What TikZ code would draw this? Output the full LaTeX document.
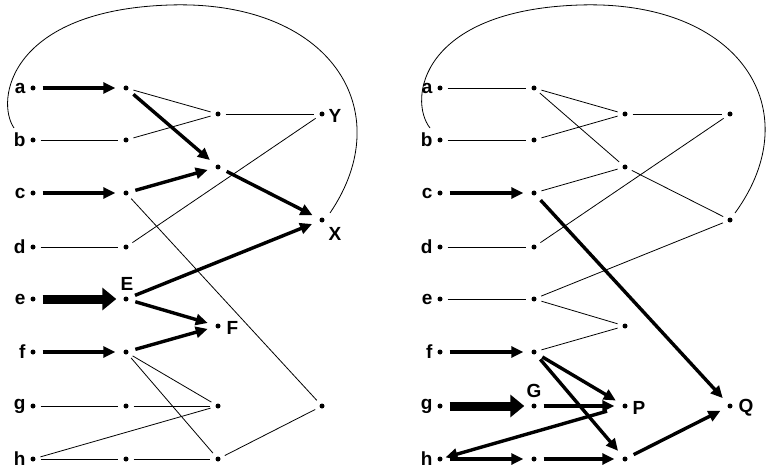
\documentclass[tikz,border=0pt]{standalone}
\usetikzlibrary{arrows.meta}
\usepackage{fontspec}
\setmainfont{Liberation Sans}
\begin{document}
\begin{tikzpicture}[x=1pt,y=-1pt,
  dot/.style={circle,fill,inner sep=0pt,minimum size=5pt},
  lab/.style={font=\bfseries\fontsize{19}{19}\selectfont},
  thin/.style={line width=0.8pt,shorten <=5pt,shorten >=5pt},
  bold/.style={line width=3.4pt,-{Triangle[length=12pt,width=11pt]},shorten <=7pt,shorten >=8pt},
  heavy/.style={line width=9pt,-{Triangle[length=14pt,width=22pt]},shorten <=7pt,shorten >=7pt}]
\useasboundingbox (0,0) rectangle (773,473);
% ---------- left panel
\foreach \n/\y in {a/88,b/140,c/193,d/247,e/299,f/352,g/406,h/459}{
  \node[dot] (L\n) at (33,\y) {};
  \node[lab,anchor=east] at (29,\y) {\n};
  \node[dot] (L1\n) at (126,\y) {};
}
\node[dot] (L2a) at (218,114) {};
\node[dot] (L2b) at (218,167) {};
\node[dot] (LF) at (218,326) {};
\node[dot] (L2g) at (218,406) {};
\node[dot] (L2h) at (218,459) {};
\node[dot] (LY) at (322,114) {};
\node[dot] (LX) at (322,220) {};
\node[dot] (L3) at (322,406) {};
\node[lab,anchor=west] at (325,116) {Y};
\node[lab,anchor=north west] at (325,224) {X};
\node[lab] at (127,284) {E};
\node[lab,anchor=west] at (223,328) {F};
\draw[bold] (La)--(L1a);
\draw[thin] (Lb)--(L1b);
\draw[bold] (Lc)--(L1c);
\draw[thin] (Ld)--(L1d);
\draw[heavy] (Le)--(L1e);
\draw[bold] (Lf)--(L1f);
\draw[thin] (Lg)--(L1g);
\draw[thin] (L1g)--(L2g);
\draw[thin] (Lh)--(L1h);
\draw[thin] (L1h)--(L2h);
\draw[thin] (Lh)--(L2g);
\draw[thin] (L1a)--(L2a);
\draw[thin] (L1b)--(L2a);
\draw[thin] (L2a)--(LY);
\draw[bold] (L1a)--(L2b);
\draw[bold] (L1c)--(L2b);
\draw[bold] (L2b)--(LX);
\draw[thin] (L1d)--(LY);
\draw[thin] (L1c)--(L3);
\draw[thin] (L2h)--(L3);
\draw[bold] (L1e)--(LX);
\draw[bold] (L1e)--(LF);
\draw[bold] (L1f)--(LF);
\draw[thin] (L1f)--(L2g);
\draw[thin] (L1f)--(L2h);
\draw[line width=0.8pt] (14,128) .. controls (-5,100) and (10,10) .. (170,5)
  .. controls (330,0) and (400,110) .. (330,213);
% ---------- right panel
\foreach \n/\y in {a/88,b/140,c/193,d/247,e/299,f/352,g/406,h/459}{
  \node[dot] (R\n) at (440,\y) {};
  \node[lab,anchor=east] at (436,\y) {\n};
  \node[dot] (R1\n) at (534,\y) {};
}
\node[dot] (R2a) at (625,114) {};
\node[dot] (R2b) at (625,167) {};
\node[dot] (R2f) at (625,326) {};
\node[dot] (RP) at (625,406) {};
\node[dot] (R2h) at (625,459) {};
\node[dot] (R3a) at (730,114) {};
\node[dot] (R3b) at (730,220) {};
\node[dot] (RQ) at (730,406) {};
\node[lab] at (534,391) {G};
\node[lab,anchor=west] at (629,408) {P};
\node[lab,anchor=west] at (735,408) {Q};
\draw[thin] (Ra)--(R1a);
\draw[thin] (Rb)--(R1b);
\draw[bold] (Rc)--(R1c);
\draw[thin] (Rd)--(R1d);
\draw[thin] (Re)--(R1e);
\draw[bold] (Rf)--(R1f);
\draw[heavy] (Rg)--(R1g);
\draw[bold] (Rh)--(R1h);
\draw[thin] (R1a)--(R2a);
\draw[thin] (R1b)--(R2a);
\draw[thin] (R2a)--(R3a);
\draw[thin] (R1a)--(R2b);
\draw[thin] (R1c)--(R2b);
\draw[thin] (R2b)--(R3b);
\draw[thin] (R1d)--(R3a);
\draw[thin] (R1e)--(R3b);
\draw[thin] (R1e)--(R2f);
\draw[thin] (R1f)--(R2f);
\draw[bold] (R1c)--(RQ);
\draw[bold] (R1f)--(RP);
\draw[bold] (R1f)--(R2h);
\draw[bold] (R1g)--(RP);
\draw[bold,shorten <=16pt,shorten >=3pt] (RP)--(Rh);
\draw[bold] (R1h)--(R2h);
\draw[bold] (R2h)--(RQ);
\draw[line width=0.8pt] (430,128) .. controls (408,100) and (420,10) .. (580,5)
  .. controls (740,0) and (810,110) .. (735,213);
\end{tikzpicture}
\end{document}
